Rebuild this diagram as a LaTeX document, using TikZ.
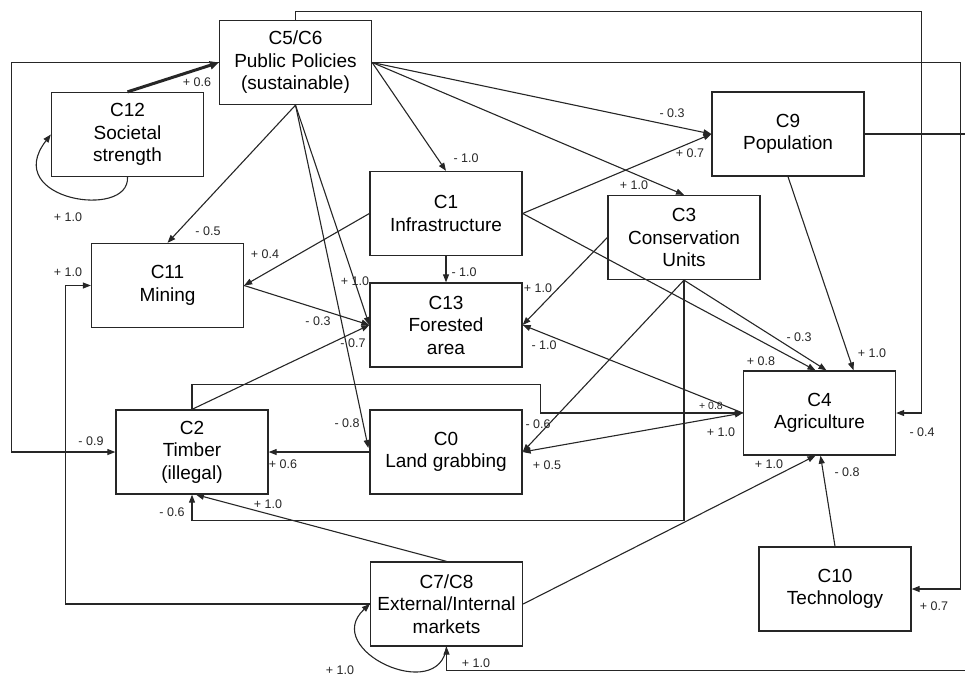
\documentclass[tikz,border=0pt]{standalone}
\usepackage{fontspec}
\setmainfont{Liberation Sans}
\usetikzlibrary{arrows.meta,calc}
\begin{document}
\begin{tikzpicture}[x=1pt,y=-1pt,
  >={Triangle[length=8pt,width=6pt]},
  box/.style={draw=black!85, line width=1.3pt, minimum width=152pt, minimum height=84pt, inner sep=0pt, align=center, font=\fontsize{19}{22.5}\selectfont},
  arr/.style={draw=black!85, line width=1.1pt, ->},
  lab/.style={font=\fontsize{12.5}{14}\selectfont, inner sep=0pt, text=black!85},
  slab/.style={font=\fontsize{10.5}{12}\selectfont, inner sep=0pt, text=black!85}]
\useasboundingbox (0,0) rectangle (965,677);
% nodes
\node[box] (c56) at (295.5,62.5) {C5/C6\\Public Policies\\(sustainable)};
\node[box] (c12) at (127.5,134.5) {C12\\Societal\\strength};
\node[box] (c9) at (788,134) {C9\\Population};
\node[box] (c1) at (446,213.5) {C1\\Infrastructure};
\node[box] (c3) at (684,237.5) {C3\\Conservation\\Units};
\node[box] (c11) at (167.5,285.5) {C11\\Mining};
\node[box] (c13) at (446,325) {C13\\Forested\\area};
\node[box] (c4) at (819.5,413) {C4\\Agriculture};
\node[box] (c2) at (192,452) {C2\\Timber\\(illegal)};
\node[box] (c0) at (446,452) {C0\\Land grabbing};
\node[box] (c78) at (446.5,604) {C7/C8\\External/Internal\\markets};
\node[box] (c10) at (835,589) {C10\\Technology};
% connectors
\draw[arr, line width=3pt, -{Triangle[length=9pt,width=8pt]}] (c12.north) -- (c56.west);
\draw[arr] (c12.south) .. controls (130,220) and (0,200) .. (c12.west);
\draw[arr] (c56.south) -- (c11.north);
\draw[arr] (c56.south) -- (c13.west);
\draw[arr] (c56.south) -- ($(c0.west)+(-1,-4)$);
\draw[arr] (c56.east) -- (c1.north);
\draw[arr] (c56.east) -- (c3.north);
\draw[arr] (c56.east) -- (c9.west);
\draw[arr] (c56.north) -- ($(c56.north)+(0,-8)$) -| ($(c4.east)+(25,0)$) -- (c4.east);
\draw[arr] (c56.east) -| ($(c10.east)+(49,0)$) -- (c10.east);
\draw[arr] (c56.west) -| ($(c2.west)+(-104,0)$) -- (c2.west);
\draw[arr] (c9.east) -- ($(c9.east)+(106,0)$) |- ($(c78.south)+(0,24)$) -- (c78.south);
\draw[arr] (c3.south) -- ($(c3.south)+(0,240)$) -| (c2.south);
\draw[arr] (c2.north) -- ($(c2.north)+(0,-25)$) -| ($(c4.west)+(-202,0)$) -- (c4.west);
\draw[arr] (c78.west) -| ($(c11.west)+(-25,0)$) -- (c11.west);
\draw[arr] (c0.west) -- (c2.east);
\draw[arr] (c1.south) -- (c13.north);
\draw[arr] (c1.west) -- (c11.east);
\draw[arr] (c1.east) -- (c9.west);
\draw[arr] (c1.east) -- ($(c4.north)+(-4,0)$);
\draw[arr] (c3.west) -- (c13.east);
\draw[arr] (c3.south) -- (c0.east);
\draw[arr] (c3.south) -- ($(c4.north)+(7,0)$);
\draw[arr] (c9.south) -- ($(c4.north)+(34,0)$);
\draw[arr] (c4.west) -- (c13.east);
\draw[arr, <->] (c4.west) -- (c0.east);
\draw[arr] (c11.east) -- (c13.west);
\draw[arr] (c2.north) -- (c13.west);
\draw[arr] (c78.north) -- ($(c2.south)+(4,0)$);
\draw[arr] (c78.east) -- ($(c4.south)+(-4,0)$);
\draw[arr] (c10.north) -- ($(c4.south)+(1,0)$);
\draw[arr] (c78.south) .. controls (440,705) and (320,650) .. (c78.west);
% labels
\node[lab] (l1) at (197,82) {+ 0.6};
\node[lab] (l2) at (68,217) {+ 1.0};
\node[lab] (l3) at (208,231) {- 0.5};
\node[lab] (l4) at (672,113) {- 0.3};
\node[lab] (l5) at (466,158) {- 1.0};
\node[lab] (l6) at (690,153) {+ 0.7};
\node[lab] (l7) at (634,185) {+ 1.0};
\node[lab] (l8) at (265,254) {+ 0.4};
\node[lab] (l9) at (68,272) {+ 1.0};
\node[lab] (l10) at (355,281) {+ 1.0};
\node[lab] (l11) at (318,321) {- 0.3};
\node[lab] (l12) at (353,343) {- 0.7};
\node[lab] (l13) at (464,272) {- 1.0};
\node[lab] (l14) at (538,288) {+ 1.0};
\node[lab] (l15) at (544,345) {- 1.0};
\node[lab] (l16) at (799,337) {- 0.3};
\node[lab] (l17) at (761,361) {+ 0.8};
\node[lab] (l18) at (872,353) {+ 1.0};
\node[slab] (l19) at (711,406) {+ 0.8};
\node[lab] (l20) at (721,432) {+ 1.0};
\node[lab] (l21) at (922,432) {- 0.4};
\node[lab] (l22) at (538,424) {- 0.6};
\node[lab] (l23) at (547,465) {+ 0.5};
\node[lab] (l24) at (347,423) {- 0.8};
\node[lab] (l25) at (91,441) {- 0.9};
\node[lab] (l26) at (283,464) {+ 0.6};
\node[lab] (l27) at (268,504) {+ 1.0};
\node[lab] (l28) at (172,512) {- 0.6};
\node[lab] (l29) at (769,464) {+ 1.0};
\node[lab] (l30) at (847,472) {- 0.8};
\node[lab] (l31) at (934,606) {+ 0.7};
\node[lab] (l32) at (476,663) {+ 1.0};
\node[lab] (l33) at (340,670) {+ 1.0};
\end{tikzpicture}
\end{document}
